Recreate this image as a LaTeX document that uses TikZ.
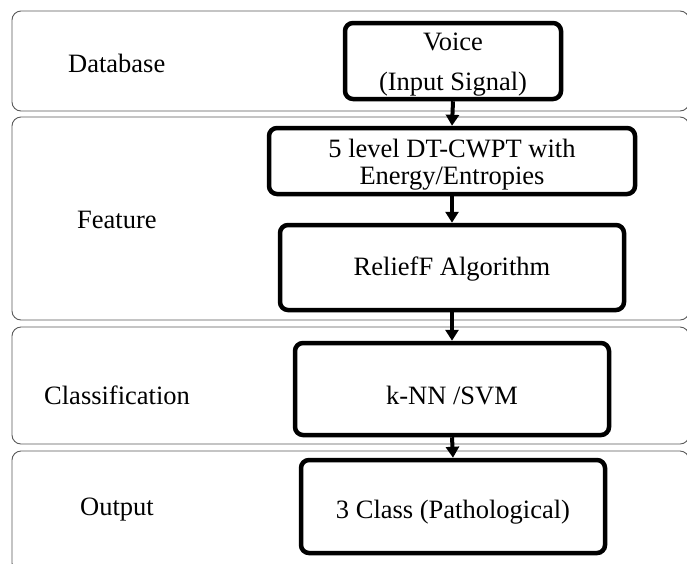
\documentclass[tikz,border=0pt]{standalone}
\usepackage{fontspec}
\setmainfont{Liberation Serif}
\usetikzlibrary{arrows.meta}
\newcommand{\lowertext}[2]{\raisebox{-#1}[\height][\depth]{#2}}
\tikzset{
  lane/.style={draw=black!65, line width=0.9pt, rounded corners=9pt},
  stage/.style={draw=black, line width=4.5pt, rounded corners=8pt, align=center, inner sep=0pt,
    font=\fontsize{26.5}{27}\selectfont},
  lanelabel/.style={anchor=west, inner sep=0pt, font=\fontsize{26.5}{30}\selectfont},
  flow/.style={line width=4pt, -{Triangle[length=11pt,width=13pt]}}
}
\begin{document}
\begin{tikzpicture}[x=1pt,y=-1pt]
\useasboundingbox (0,0) rectangle (687,563);
% lanes
\draw[lane] (12,11) rectangle (689,111);
\draw[lane] (12,117) rectangle (689,320);
\draw[lane] (12,327) rectangle (689,444);
\draw[lane] (12,451) rectangle (689,572);
% lane labels
\node[lanelabel] (lbDb) at (68,63) {Database};
\node[lanelabel] (lbFeat) at (77,220) {Feature};
\node[lanelabel] (lbCls) at (44,395) {Classification};
\node[lanelabel] (lbOut) at (80,510) {Output};
% stages
\node[stage, minimum width=216pt, minimum height=76pt] (voice) at (453,61) {\lowertext{4pt}{Voice}\\[13pt]\lowertext{4pt}{(Input Signal)}};
\node[stage, minimum width=366pt, minimum height=66pt] (dt) at (452,161) {\lowertext{4pt}{5 level DT-CWPT with}\\\lowertext{4pt}{Energy/Entropies}};
\node[stage, minimum width=344pt, minimum height=85pt] (relief) at (452,267.5) {\lowertext{2pt}{ReliefF Algorithm}};
\node[stage, minimum width=314pt, minimum height=92pt] (knn) at (452,389) {\lowertext{6pt}{k-NN /SVM}};
\node[stage, minimum width=304pt, minimum height=93pt] (out) at (453,506.5) {\lowertext{6pt}{3 Class (Pathological)}};
% arrows
\draw[flow] (voice.south) -- (dt.north);
\draw[flow] (dt.south) -- (relief.north);
\draw[flow] (relief.south) -- (knn.north);
\draw[flow] (knn.south) -- (out.north);
\end{tikzpicture}
\end{document}
